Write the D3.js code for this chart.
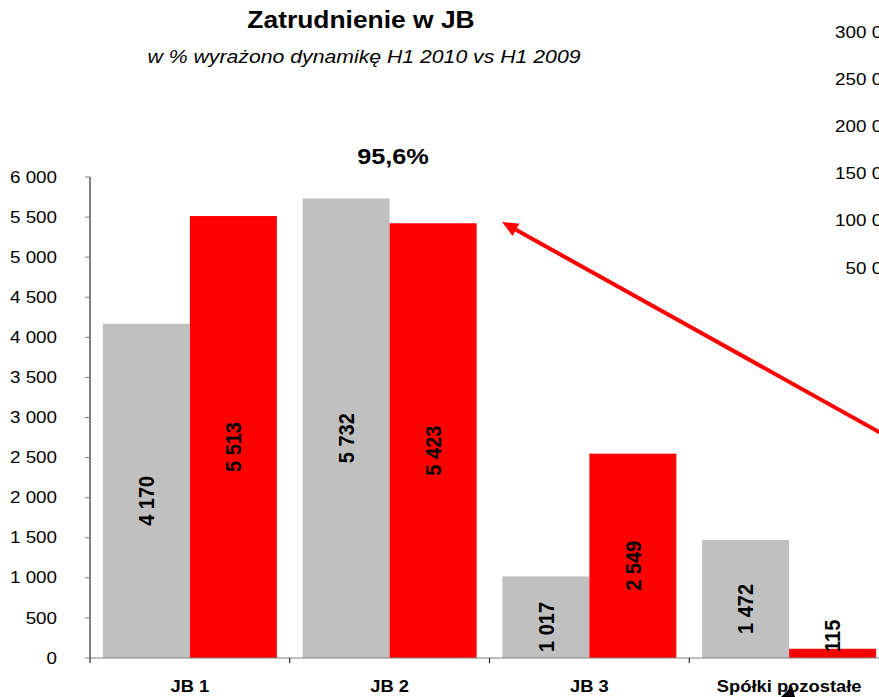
<!DOCTYPE html>
<html>
<head>
<meta charset="utf-8">
<script src="https://cdn.jsdelivr.net/npm/d3@7"></script>
<style>
  html, body { margin: 0; padding: 0; background: #fff; overflow: hidden; }
  svg { display: block; font-family: Arial, "Liberation Sans", sans-serif; }
</style>
</head>
<body>
<svg id="chart" width="879" height="697"></svg>
<script>
// ---- data ----
const categories = ["JB 1", "JB 2", "JB 3", "Spółki pozostałe"];
const seriesNames = ["H1 2009", "H1 2010"];
const values2009 = [4170, 5732, 1017, 1472];
const values2010 = [5513, 5423, 2549, 115];
const yTicks = [0, 500, 1000, 1500, 2000, 2500, 3000, 3500, 4000, 4500, 5000, 5500, 6000];
const rightTicks = [50000, 100000, 150000, 200000, 250000, 300000];
const titleText = "Zatrudnienie w JB";
const subtitleText = "w % wyrażono dynamikę H1 2010 vs H1 2009";
const dynamicsText = "95,6%";

const colors = ["#C0C0C0", "#FF0000"];
const fmt = v => d3.format(",")(v).replace(/,/g, " ");

const svg = d3.select("#chart");

// ---- scales ----
const y = d3.scaleLinear().domain([0, 6000]).range([658, 177]);
const x0 = d3.scaleBand().domain(categories).range([90, 889]).padding(0);
const x1 = d3.scaleBand().domain(seriesNames).range([0, x0.bandwidth()]).paddingInner(0).paddingOuter(0.148);
const yRight = d3.scaleLinear().domain([0, 300000]).range([315.2, 32]);

// helper for horizontally stretched text
function stext(g, x, yy, sx, rot) {
  return g.append("text").attr("transform", `translate(${x},${yy}) scale(${sx},1)` + (rot ? ` rotate(${rot})` : ""));
}

// ---- right-side clipped axis labels from neighbouring chart ----
rightTicks.forEach(t => {
  stext(svg, 903, yRight(t), 1.175, 0)
    .attr("text-anchor", "end").attr("dy", "0.35em")
    .attr("font-size", 16).attr("fill", "#000")
    .text(fmt(t));
});

// ---- bars ----
const data = categories.map((c, i) => ({ cat: c, vals: [values2009[i], values2010[i]] }));
const groups = svg.append("g").selectAll("g").data(data).join("g")
  .attr("transform", d => `translate(${x0(d.cat)},0)`);

groups.selectAll("rect").data(d => d.vals.map((v, j) => ({ key: seriesNames[j], v, j })))
  .join("rect")
  .attr("x", d => x1(d.key))
  .attr("y", d => y(d.v))
  .attr("width", x1.bandwidth())
  .attr("height", d => y(0) - y(d.v))
  .attr("fill", d => colors[d.j]);

// ---- axes ----
const axisG = svg.append("g");
// x axis line
axisG.append("line").attr("x1", 90).attr("x2", 889).attr("y1", y(0)).attr("y2", y(0))
  .attr("stroke", "#808080").attr("stroke-width", 1.2);
// x ticks at band boundaries
const bounds = categories.map(c => x0(c)).concat([x0(categories[categories.length - 1]) + x0.bandwidth()]);
bounds.forEach(b => {
  axisG.append("line").attr("x1", b).attr("x2", b).attr("y1", y(0)).attr("y2", y(0) + 5)
    .attr("stroke", "#000").attr("stroke-width", 1);
});
// y axis line
axisG.append("line").attr("x1", 90).attr("x2", 90).attr("y1", y(6000)).attr("y2", y(0))
  .attr("stroke", "#000").attr("stroke-width", 1);
yTicks.forEach(t => {
  axisG.append("line").attr("x1", 85).attr("x2", 90).attr("y1", y(t)).attr("y2", y(t))
    .attr("stroke", "#808080").attr("stroke-width", 1);
  stext(axisG, 57, y(t), 1.175, 0)
    .attr("text-anchor", "end").attr("dy", "0.35em")
    .attr("font-size", 16).attr("fill", "#000")
    .text(fmt(t));
});
// x labels
categories.forEach(c => {
  stext(axisG, x0(c) + x0.bandwidth() / 2, 692, 1.08, 0)
    .attr("text-anchor", "middle").attr("font-weight", "bold")
    .attr("font-size", 17).attr("fill", "#000")
    .text(c);
});

// ---- bar value labels (rotated) ----
data.forEach(d => {
  d.vals.forEach((v, j) => {
    const cx = x0(d.cat) + x1(seriesNames[j]) + x1.bandwidth() / 2;
    const mid = (y(v) + y(0)) / 2 + 10;
    const t = svg.append("text")
      .attr("text-anchor", "middle").attr("dy", "0.35em")
      .attr("font-weight", "bold").attr("font-size", 20).attr("fill", "#000")
      .text(fmt(v));
    const len = t.node().getComputedTextLength();
    const cy = Math.min(mid, 652 - len / 2);
    t.attr("transform", `translate(${cx},${cy}) scale(1.12,1) rotate(-90)`);
  });
});

// ---- titles ----
stext(svg, 361, 28, 1.10, 0).attr("text-anchor", "middle").attr("font-weight", "bold")
  .attr("font-size", 24).attr("fill", "#000").text(titleText);
stext(svg, 364, 63, 1.18, 0).attr("text-anchor", "middle").attr("font-style", "italic")
  .attr("font-size", 18).attr("fill", "#000").text(subtitleText);
stext(svg, 393, 164, 1.15, 0).attr("text-anchor", "middle").attr("font-weight", "bold")
  .attr("font-size", 22).attr("fill", "#000").text(dynamicsText);

// ---- red arrow ----
const tip = [502, 222];
const tail = [950, 471.5];
const ang = Math.atan2(tail[1] - tip[1], tail[0] - tip[0]);
const headLen = 16, headW = 7;
const bx = tip[0] + Math.cos(ang) * headLen, by = tip[1] + Math.sin(ang) * headLen;
svg.append("line").attr("x1", bx).attr("y1", by).attr("x2", tail[0]).attr("y2", tail[1])
  .attr("stroke", "#FF0000").attr("stroke-width", 4);
svg.append("path")
  .attr("d", `M${tip[0]},${tip[1]} L${bx - Math.sin(ang) * headW},${by + Math.cos(ang) * headW} L${bx + Math.sin(ang) * headW},${by - Math.cos(ang) * headW} Z`)
  .attr("fill", "#FF0000");

// small black arrowhead of another connector at the bottom
svg.append("path").attr("d", "M781,697 L792,686 L795,697 Z").attr("fill", "#000");
</script>
</body>
</html>
